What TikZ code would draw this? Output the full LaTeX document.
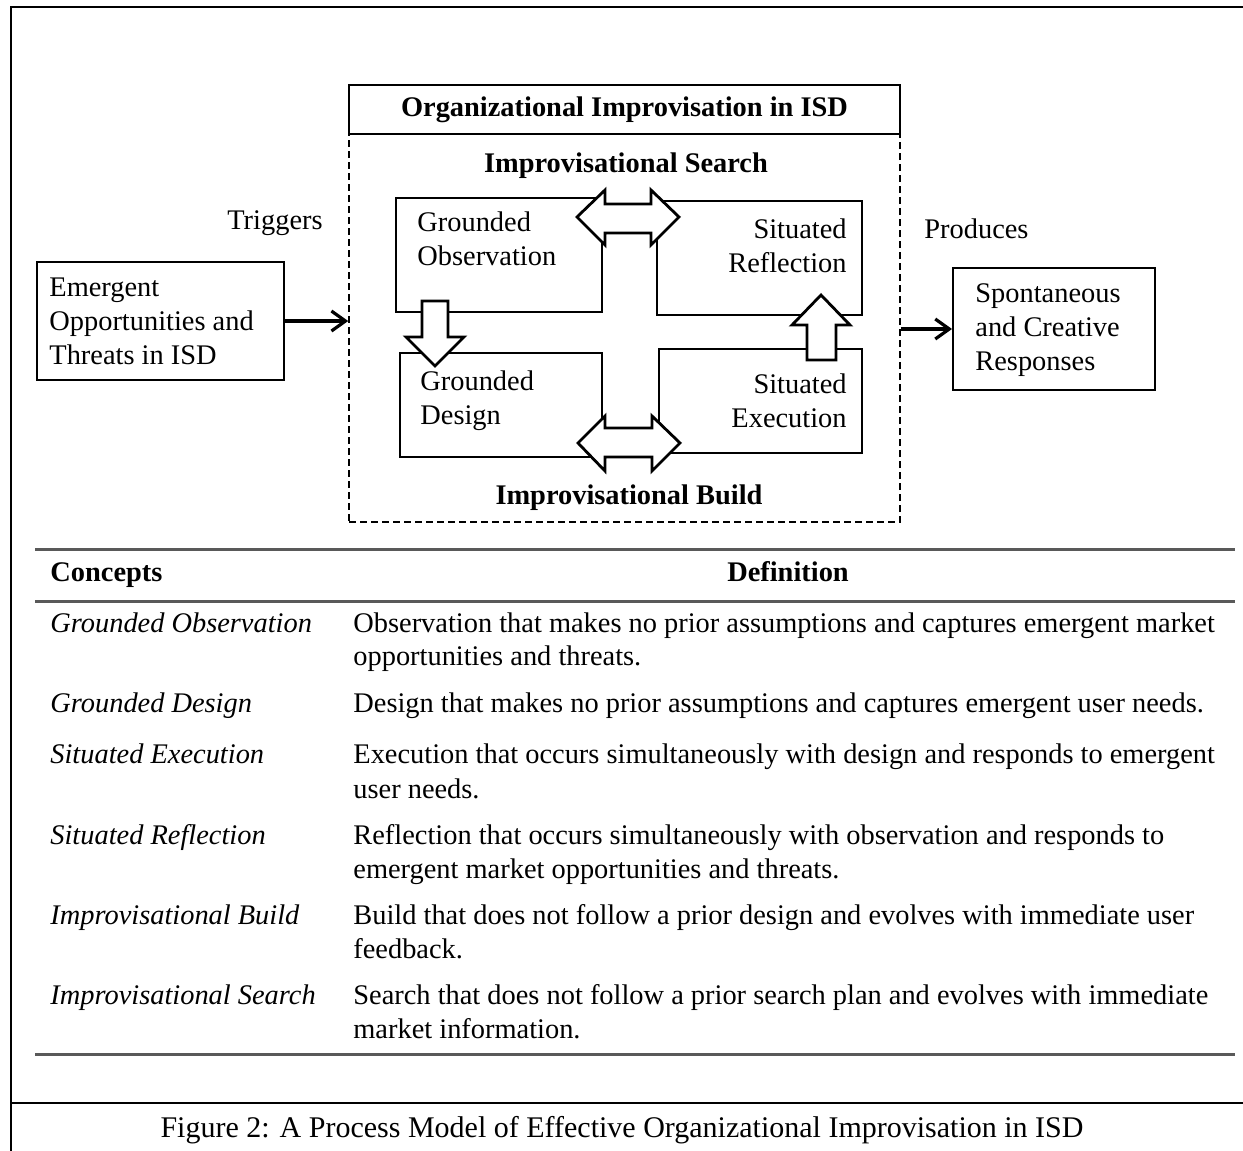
\documentclass[tikz,border=0pt]{standalone}
\usepackage{fontspec}
\setmainfont{Liberation Serif}
\usetikzlibrary{arrows.meta}
\begin{document}
\begin{tikzpicture}[x=0.5pt,y=-0.5pt,
  txt/.style={inner sep=0pt, font=\fontsize{14.2}{17}\selectfont},
  btxt/.style={inner sep=0pt, font=\fontsize{14.2}{17}\selectfont\bfseries},
  itxt/.style={inner sep=0pt, font=\fontsize{14.2}{17}\selectfont\itshape, anchor=west, text height=9.5pt, text depth=3pt},
  tline/.style={txt, anchor=west, text height=9.5pt, text depth=3pt},
  box/.style={draw, line width=1pt, inner sep=0pt},
  inbox/.style={draw, line width=1.4pt, inner sep=0pt},
  dashbox/.style={draw, line width=0.8pt, dash pattern=on 3.5pt off 2pt, inner sep=0pt},
  blockarrow/.style={draw, fill=white, line width=1.4pt, line join=miter},
  flow/.style={line width=1.6pt, -{Straight Barb[length=7pt,width=10pt,line width=1.6pt]}},
  rule/.style={line width=1.5pt, draw=black!65},
  frame/.style={line width=1.3pt, draw=black}
]
\useasboundingbox (0,0) rectangle (1243,1151);

% outer frame
\draw[frame] (1243,7) -- (11,7) -- (11,1151);
\draw[frame] (11,1103) -- (1243,1103);

% left and right boxes
\node[box, minimum width=123.5pt, minimum height=59pt] (emerg) at (160.5,321) {};
\node[txt, anchor=west, align=left] (emergt) at (49,321.5) {Emergent\\Opportunities and\\Threats in ISD};
\node[box, minimum width=101pt, minimum height=61pt] (spont) at (1054,329) {};
\node[txt, anchor=west, align=left] (spontt) at (975,330) {Spontaneous\\and Creative\\Responses};
\node[txt, anchor=east] (trig) at (323,223) {Triggers};
\node[txt, anchor=west] (prod) at (924,229) {Produces};

% organizational box
\node[dashbox, minimum width=275.5pt, minimum height=194pt] (org) at (624.5,328) {};
\node[box, btxt, minimum width=275.5pt, minimum height=24.5pt] (title) at (624.5,109.5) {Organizational Improvisation in ISD};
\node[btxt] (isearch) at (626,166) {Improvisational Search};
\node[btxt] (ibuild) at (629,498) {Improvisational Build};

% inner boxes
\node[inbox, minimum width=103pt, minimum height=57pt] (go) at (499,255) {};
\node[inbox, minimum width=102.5pt, minimum height=57pt] (sr) at (759.5,258) {};
\node[inbox, minimum width=101pt, minimum height=52pt] (gd) at (501,405) {};
\node[inbox, minimum width=101.5pt, minimum height=52pt] (se) at (760.5,401) {};
\node[txt, anchor=west, align=left] (got) at (417,239) {Grounded\\Observation};
\node[txt, anchor=east, align=right] (srt) at (847,246) {Situated\\Reflection};
\node[txt, anchor=west, align=left] (gdt) at (420,401) {Grounded\\Design};
\node[txt, anchor=east, align=right] (set) at (847,401) {Situated\\Execution};

% block arrows
\draw[blockarrow] (577,217) -- (605,190) -- (605,204) -- (651,204) -- (651,190) -- (679,217)
  -- (651,245) -- (651,233) -- (605,233) -- (605,245) -- cycle;
\draw[blockarrow] (578,443) -- (605,416) -- (605,428) -- (652,428) -- (652,416) -- (680,443)
  -- (652,471) -- (652,457) -- (605,457) -- (605,471) -- cycle;
\draw[blockarrow] (422,301) -- (448,301) -- (448,337) -- (464,337) -- (435,366) -- (406,337)
  -- (422,337) -- cycle;
\draw[blockarrow] (807,360) -- (836,360) -- (836,325) -- (850,325) -- (821,295) -- (792,325)
  -- (807,325) -- cycle;

% connectors
\draw[flow] (emerg.east) -- (emerg.east -| org.west);
\draw[flow] (spont.west -| org.east) -- (spont.west);

% table
\draw[rule] (35,549) -- (1235,549);
\draw[rule] (35,601) -- (1235,601);
\draw[rule] (35,1054) -- (1235,1054);
\node[btxt, anchor=west, text height=9.5pt, text depth=3pt] (hc) at (50,575) {Concepts};
\node[btxt, text height=9.5pt, text depth=3pt] (hd) at (788,575) {Definition};

\node[itxt] (c1) at (50,626) {Grounded Observation};
\node[tline] (d1a) at (353,626) {Observation that makes no prior assumptions and captures emergent market};
\node[tline] (d1b) at (353,659) {opportunities and threats.};
\node[itxt] (c2) at (50,706) {Grounded Design};
\node[tline] (d2a) at (353,706) {Design that makes no prior assumptions and captures emergent user needs.};
\node[itxt] (c3) at (50,757) {Situated Execution};
\node[tline] (d3a) at (353,757) {Execution that occurs simultaneously with design and responds to emergent};
\node[tline] (d3b) at (353,792) {user needs.};
\node[itxt] (c4) at (50,838) {Situated Reflection};
\node[tline] (d4a) at (353,838) {Reflection that occurs simultaneously with observation and responds to};
\node[tline] (d4b) at (353,872) {emergent market opportunities and threats.};
\node[itxt] (c5) at (50,918) {Improvisational Build};
\node[tline] (d5a) at (353,918) {Build that does not follow a prior design and evolves with immediate user};
\node[tline] (d5b) at (353,952) {feedback.};
\node[itxt] (c6) at (50,998) {Improvisational Search};
\node[tline] (d6a) at (353,998) {Search that does not follow a prior search plan and evolves with immediate};
\node[tline] (d6b) at (353,1032) {market information.};

% caption
\node[inner sep=0pt, font=\fontsize{15}{18}\selectfont] (cap) at (622,1130) {Figure 2: A Process Model of Effective Organizational Improvisation in ISD};
\end{tikzpicture}
\end{document}
